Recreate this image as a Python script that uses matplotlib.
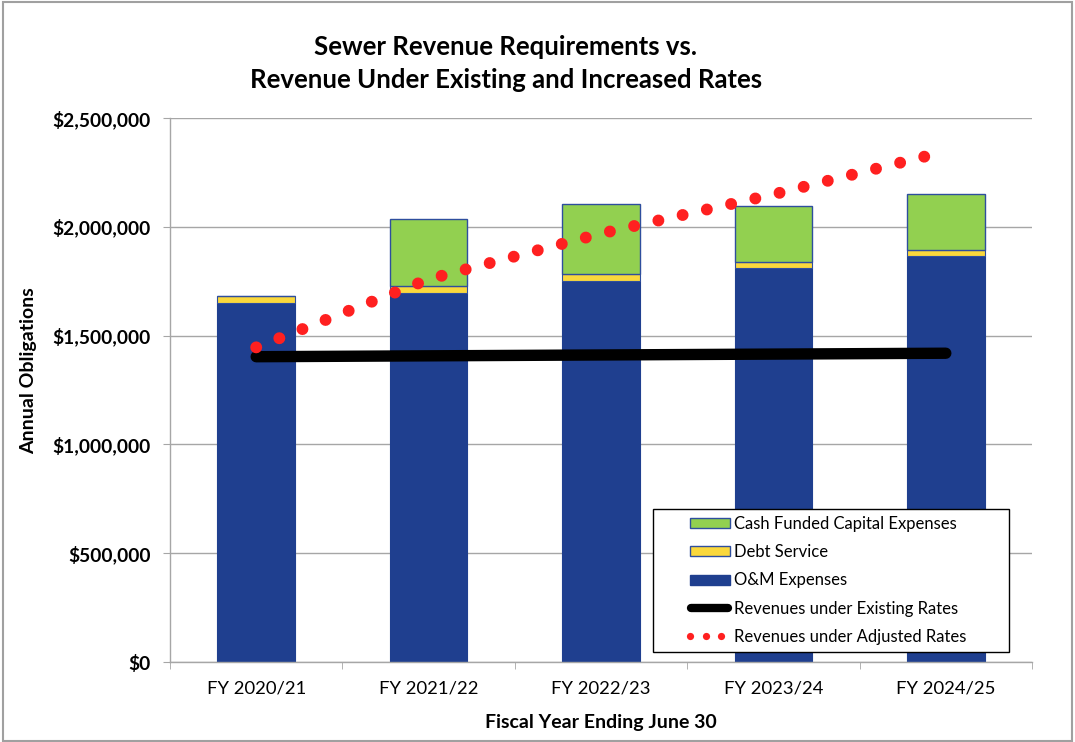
import numpy as np
import matplotlib
matplotlib.use('Agg')
import matplotlib.pyplot as plt
from matplotlib.lines import Line2D
from matplotlib.patches import Rectangle
from matplotlib.legend_handler import HandlerBase
from matplotlib.ticker import FuncFormatter, FixedLocator

# ---- data
years = ['FY 2020/21', 'FY 2021/22', 'FY 2022/23', 'FY 2023/24', 'FY 2024/25']
om_expenses = [1650000, 1697000, 1752000, 1809000, 1864000]
debt_service = [32000, 31000, 30000, 29000, 29000]
cash_capital = [0, 306000, 323000, 258000, 259000]
rev_existing = [1403000, 1407000, 1411000, 1415000, 1419000]
rev_adjusted = [1446000, 1759000, 1969000, 2149000, 2347000]

plt.rcParams['font.family'] = ['Lato', 'DejaVu Sans']

c_om = '#1F3F8F'
c_debt = '#FAD83C'
c_cap = '#92D050'
c_edge = '#2E4E9E'
c_grid = '#A6A6A6'
c_red = '#FF2020'


# legend keys sit in the right part of a wide handle box (leaves blank space on the left)
class KeyHandler(HandlerBase):
    def __init__(self, kind, fc=None, ec=None, **kw):
        self.kind = kind
        self.fc = fc
        self.ec = ec
        super().__init__(**kw)

    def create_artists(self, legend, orig_handle, xdescent, ydescent,
                       width, height, fontsize, trans):
        x0 = -xdescent
        ymid = -ydescent + height / 2
        if self.kind == 'patch':
            h = 0.6 * fontsize
            r = Rectangle((x0 + 0.43 * width, ymid - h / 2), 0.55 * width, h,
                          facecolor=self.fc, edgecolor=self.ec, lw=1.0, transform=trans)
            return [r]
        if self.kind == 'line':
            ln = Line2D([x0 + 0.44 * width, x0 + 0.96 * width], [ymid, ymid],
                        color='black', lw=6, solid_capstyle='round', transform=trans)
            return [ln]
        xs = [x0 + f * width for f in (0.43, 0.64, 0.86)]
        ln = Line2D(xs, [ymid] * 3, ls='none', marker='o', markersize=5.2,
                    color=c_red, markeredgewidth=0, transform=trans)
        return [ln]


class Key:
    pass


fig = plt.figure(figsize=(10.75, 7.42), dpi=100)
ax = fig.add_axes([170/1075, 1-662/742, (1032-170)/1075, (662-118)/742])

x = np.arange(len(years))
w = 0.45
om = np.array(om_expenses)
ds = np.array(debt_service)
cap = np.array(cash_capital)

ax.bar(x, om, w, color=c_om, edgecolor=c_om, lw=0.8, zorder=2)
ax.bar(x, ds, w, bottom=om, color=c_debt, edgecolor=c_edge, lw=0.8, zorder=2)
ax.bar(x, cap, w, bottom=om+ds, color=c_cap, edgecolor=c_edge, lw=1.0, zorder=2)

ax.plot(x, rev_existing, color='black', lw=8.2, solid_capstyle='round', zorder=3)
ax.plot(x, rev_adjusted, color=c_red, lw=8.6, linestyle=(0, (0.001, 2.08)),
        dash_capstyle='round', zorder=4)

ax.set_xlim(-0.5, len(years)-0.5)
ax.set_ylim(0, 2500000)
ax.set_yticks(np.arange(0, 2500001, 500000))
ax.yaxis.set_major_formatter(FuncFormatter(lambda v, p: '${:,.0f}'.format(v)))
ax.set_xticks(x)
ax.set_xticklabels(years)
ax.xaxis.set_minor_locator(FixedLocator(np.arange(-0.5, len(years), 1.0)))

ax.grid(axis='y', color=c_grid, lw=1.0, zorder=0)
ax.set_axisbelow(True)
for s in ['top', 'right']:
    ax.spines[s].set_visible(False)
for s in ['left', 'bottom']:
    ax.spines[s].set_color(c_grid)
    ax.spines[s].set_linewidth(1.0)

ax.tick_params(axis='y', direction='out', length=5, color=c_grid, pad=9,
               labelsize=13.8)
for t in ax.get_yticklabels():
    t.set_fontweight('bold')
ax.tick_params(axis='x', which='major', length=0, pad=13, labelsize=13.3)
ax.tick_params(axis='x', which='minor', length=5, color=c_grid)

ax.set_ylabel('Annual Obligations', fontsize=14, fontweight='bold')
ax.yaxis.set_label_coords(37/1075, 0.5, transform=fig.transFigure)
ax.set_xlabel('Fiscal Year Ending June 30', fontsize=14, fontweight='bold', labelpad=13)

fig.text(506/1075, 1-47/742, 'Sewer Revenue Requirements vs.', ha='center', va='center',
         fontsize=18.5, fontweight='bold')
fig.text(506/1075, 1-80/742, 'Revenue Under Existing and Increased Rates', ha='center',
         va='center', fontsize=18.5, fontweight='bold')

labels = ['Cash Funded Capital Expenses', 'Debt Service', 'O&M Expenses',
          'Revenues under Existing Rates', 'Revenues under Adjusted Rates']
handlers = [KeyHandler('patch', c_cap, c_edge), KeyHandler('patch', c_debt, c_edge),
            KeyHandler('patch', c_om, c_om), KeyHandler('line'), KeyHandler('dots')]
key_objs = [Key() for _ in labels]
handler_map = dict(zip(key_objs, handlers))

leg = ax.legend(key_objs, labels, loc='lower left', mode='expand',
                bbox_to_anchor=(653/1075, 1-651.7/742, 356/1075, 140/742),
                bbox_transform=fig.transFigure, borderaxespad=0,
                handler_map=handler_map,
                fancybox=False, edgecolor='black', framealpha=1, fontsize=12,
                handlelength=4.3, handleheight=0.7, handletextpad=0.15,
                labelspacing=0.74, borderpad=0.4)
leg.get_frame().set_linewidth(1.0)

fig.patches.append(Rectangle((0.003, 0.002), 0.994, 0.995, transform=fig.transFigure,
                             fill=False, edgecolor='#A0A0A0', lw=1.5))

fig.savefig('out.png', dpi=100)
